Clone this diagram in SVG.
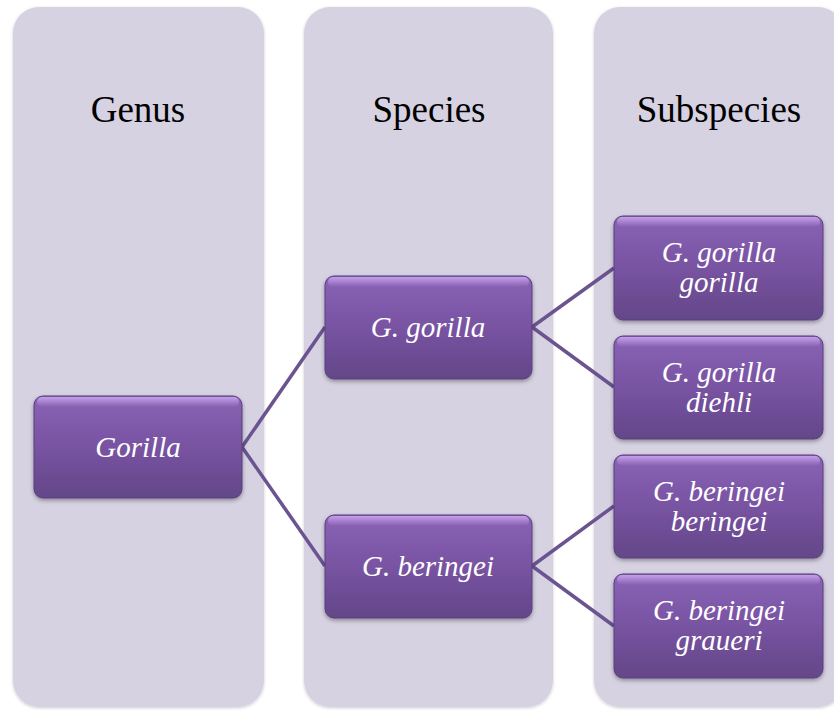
<svg xmlns="http://www.w3.org/2000/svg" width="834" height="711" viewBox="0 0 834 711">
<defs>
<linearGradient id="bg" x1="0" y1="0" x2="0" y2="1">
<stop offset="0" stop-color="#8a63b5"/>
<stop offset="0.5" stop-color="#7853a2"/>
<stop offset="1" stop-color="#634788"/>
</linearGradient>
<linearGradient id="hl" x1="0" y1="0" x2="0" y2="1">
<stop offset="0" stop-color="#c9a6ee" stop-opacity="0.9"/>
<stop offset="1" stop-color="#c9a6ee" stop-opacity="0"/>
</linearGradient>
<filter id="sh" x="-10%" y="-10%" width="120%" height="130%">
<feDropShadow dx="0" dy="2" stdDeviation="2" flood-color="#000" flood-opacity="0.35"/>
</filter>
<filter id="csh" x="-5%" y="-5%" width="110%" height="110%">
<feDropShadow dx="0" dy="1" stdDeviation="1.5" flood-color="#000" flood-opacity="0.2"/>
</filter>
</defs>
<style>
text{font-family:'Times New Roman','Liberation Serif','Noto Serif','DejaVu Serif',Georgia,serif}
.col{fill:#d6d2e2;filter:url(#csh)}
.hd{font-size:37px;fill:#000;text-anchor:middle}
.bx{fill:url(#bg);stroke:#5a3f7e;stroke-width:1;filter:url(#sh)}
.hl{fill:url(#hl)}
.lb{font-style:italic;font-size:29px;fill:#fff;text-anchor:middle}
.cn{stroke:#6a5390;stroke-width:3.5;fill:none}
</style>
<g id="col-genus"><rect class="col" x="13" y="7" width="251" height="700" rx="26"/><text class="hd" x="138" y="122">Genus</text></g>
<g id="col-species"><rect class="col" x="304" y="7" width="249" height="700" rx="26"/><text class="hd" x="429" y="122">Species</text></g>
<g id="col-subspecies"><rect class="col" x="594" y="7" width="250" height="700" rx="26"/><text class="hd" x="719" y="122">Subspecies</text></g>
<g id="connectors">
<line class="cn" x1="242" y1="447" x2="325" y2="327"/>
<line class="cn" x1="242" y1="447" x2="325" y2="566"/>
<line class="cn" x1="532" y1="327" x2="614" y2="268"/>
<line class="cn" x1="532" y1="327" x2="614" y2="387"/>
<line class="cn" x1="532" y1="566" x2="614" y2="506"/>
<line class="cn" x1="532" y1="566" x2="614" y2="626"/>
</g>
<g id="n-gorilla"><rect class="bx" x="34" y="396" width="208" height="102" rx="9"/><rect class="hl" x="37" y="397" width="202" height="10" rx="5"/><text class="lb" x="138" y="457">Gorilla</text></g>
<g id="n-ggorilla"><rect class="bx" x="325" y="276" width="207" height="103" rx="9"/><rect class="hl" x="328" y="277" width="201" height="10" rx="5"/><text class="lb" x="428" y="337">G. gorilla</text></g>
<g id="n-gberingei"><rect class="bx" x="325" y="515" width="207" height="103" rx="9"/><rect class="hl" x="328" y="516" width="201" height="10" rx="5"/><text class="lb" x="428" y="576">G. beringei</text></g>
<g id="n-ggg"><rect class="bx" x="614" y="216" width="209" height="104" rx="9"/><rect class="hl" x="617" y="217" width="203" height="10" rx="5"/><text class="lb" x="719" y="262">G. gorilla</text><text class="lb" x="719" y="292">gorilla</text></g>
<g id="n-ggd"><rect class="bx" x="614" y="336" width="209" height="103" rx="9"/><rect class="hl" x="617" y="337" width="203" height="10" rx="5"/><text class="lb" x="719" y="382">G. gorilla</text><text class="lb" x="719" y="412">diehli</text></g>
<g id="n-gbb"><rect class="bx" x="614" y="455" width="209" height="103" rx="9"/><rect class="hl" x="617" y="456" width="203" height="10" rx="5"/><text class="lb" x="719" y="501">G. beringei</text><text class="lb" x="719" y="531">beringei</text></g>
<g id="n-gbg"><rect class="bx" x="614" y="574" width="209" height="104" rx="9"/><rect class="hl" x="617" y="575" width="203" height="10" rx="5"/><text class="lb" x="719" y="620">G. beringei</text><text class="lb" x="719" y="650">graueri</text></g>
</svg>
